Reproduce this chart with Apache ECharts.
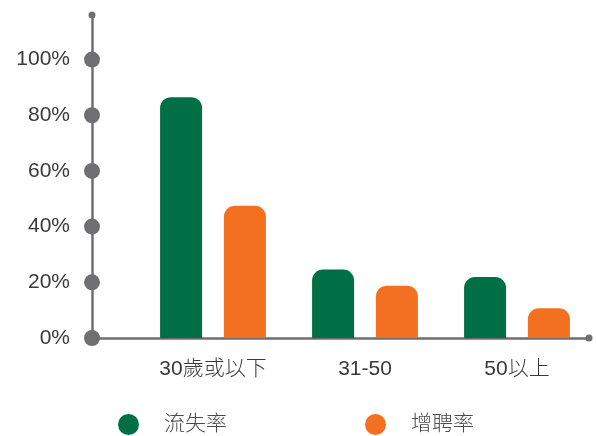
<!DOCTYPE html>
<html><head><meta charset="utf-8">
<script src="https://cdn.jsdelivr.net/npm/echarts@6/dist/echarts.min.js"></script>
<style>html,body{margin:0;padding:0;background:#fff}#c{width:596px;height:436px}</style>
</head><body><div id="c"></div>
<script>
var categories = ['30歲或以下', '31-50', '50以上'];
var lossRate = [86.5, 24.6, 21.9];
var hireRate = [47.5, 18.8, 10.7];
var tickValues = [0, 20, 40, 60, 80, 100];
var seriesNames = ['流失率', '增聘率'];

var GREEN = '#006f45', ORANGE = '#f37021', AXIS = '#6f6f73';
var FONT = "'Liberation Sans', 'Noto Sans CJK TC', sans-serif";
var chart = echarts.init(document.getElementById('c'));
chart.setOption({
  animation: false,
  grid: [
    {left: 92, right: 7, top: 15, bottom: 98},
    {left: 137, right: 3, top: 15, bottom: 98}
  ],
  legend: {
    data: seriesNames,
    left: 113, top: 409,
    icon: 'circle', itemWidth: 21, itemHeight: 21, itemGap: 138,
    textStyle: {fontFamily: FONT, fontWeight: 300, fontSize: 21, color: '#4a4a4a', padding: [0, 0, 0, 20]}
  },
  xAxis: [
    {gridIndex: 0, type: 'value', min: 0, max: 1,
      axisLine: {show: true, symbol: ['none', 'circle'], symbolSize: [7, 7], lineStyle: {color: AXIS, width: 2.5}},
      axisTick: {show: false}, axisLabel: {show: false}, splitLine: {show: false}},
    {gridIndex: 1, type: 'category', data: categories,
      axisLine: {show: false}, axisTick: {show: false}, splitLine: {show: false},
      axisLabel: {margin: 21, fontFamily: FONT, fontWeight: 300, fontSize: 21, color: '#3a3a3a'}}
  ],
  yAxis: [
    {gridIndex: 0, type: 'value', min: 0, max: 116, interval: 20,
      axisLine: {show: true, symbol: ['none', 'circle'], symbolSize: [7, 7], lineStyle: {color: AXIS, width: 2.5}},
      axisTick: {show: false}, splitLine: {show: false},
      axisLabel: {margin: 22, fontFamily: FONT, fontWeight: 300, fontSize: 21, color: '#3a3a3a',
        formatter: function (v) { return tickValues.indexOf(v) >= 0 ? v + '%' : ''; }}},
    {gridIndex: 1, type: 'value', min: 0, max: 116, show: false}
  ],
  series: [
    {name: seriesNames[0], type: 'bar', xAxisIndex: 1, yAxisIndex: 1, data: lossRate,
      barWidth: 42, barGap: '52%', itemStyle: {color: GREEN, borderRadius: [11, 11, 0, 0]}},
    {name: seriesNames[1], type: 'bar', xAxisIndex: 1, yAxisIndex: 1, data: hireRate,
      barWidth: 42, barGap: '52%', itemStyle: {color: ORANGE, borderRadius: [11, 11, 0, 0]}},
    {type: 'scatter', xAxisIndex: 0, yAxisIndex: 0, clip: false, z: 10,
      data: tickValues.map(function (v) { return [0, v]; }),
      symbolSize: 16, itemStyle: {color: AXIS, opacity: 1}, silent: true}
  ]
});
</script></body></html>
